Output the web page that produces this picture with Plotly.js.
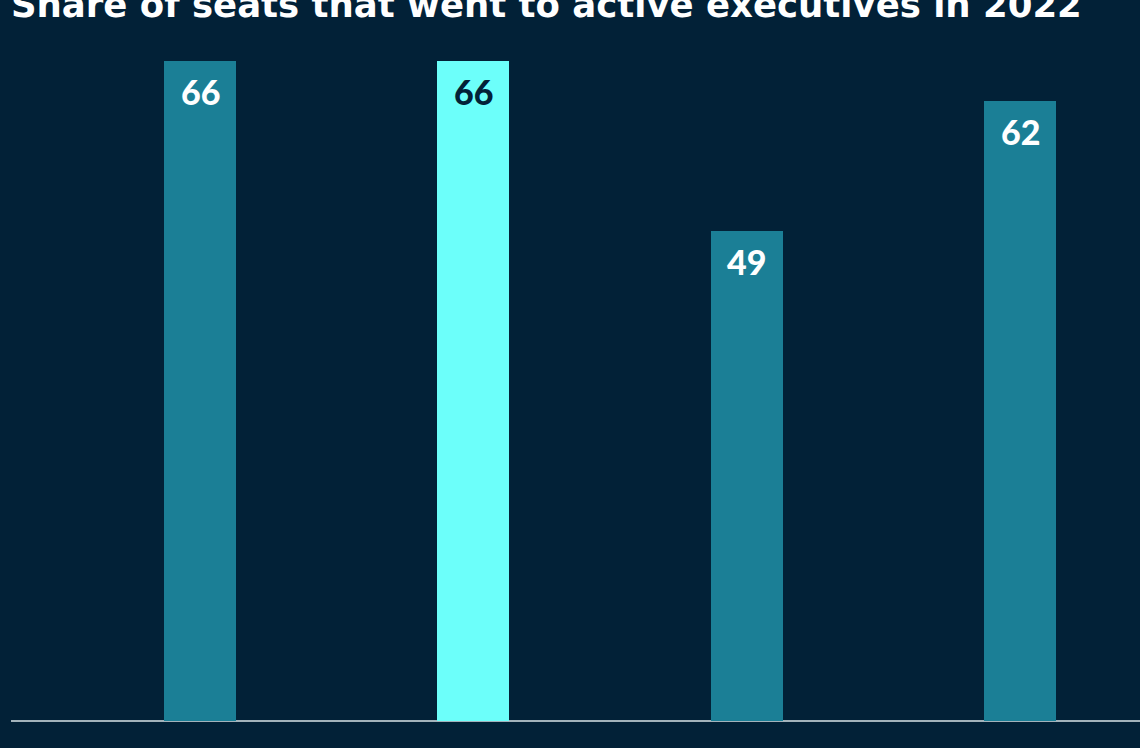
<!DOCTYPE html>
<html><head><meta charset="utf-8">
<script src="https://cdn.plot.ly/plotly-3.0.1.min.js"></script>
<style>html,body{margin:0;padding:0;background:#022137;}#chart{width:1140px;height:748px;}</style>
</head><body><div id="chart"></div>
<script>
const categories = ["Cat 1", "Cat 2", "Cat 3", "Cat 4"];
const values = [66, 66, 49, 62];
const highlighted = [false, true, false, false];
const titleText = "Share of seats that went to active executives in 2022";

const bg = "#022137";
const teal = "#1b7f96";
const cyan = "#6cfffa";

const trace = {
  type: "bar",
  x: categories,
  y: values,
  width: 0.2634,
  marker: { color: highlighted.map(h => h ? cyan : teal), line: { width: 0 } },
  hoverinfo: "skip",
  showlegend: false
};

const annotations = categories.map((c, i) => ({
  x: c, y: values[i], xref: "x", yref: "y",
  text: String(values[i]),
  showarrow: false, yanchor: "top", yshift: -8,
  font: { family: "Lato, 'Noto Sans', sans-serif", size: 34, weight: 900, color: highlighted[i] ? bg : "#ffffff" }
}));

const layout = {
  width: 1140, height: 748,
  paper_bgcolor: bg, plot_bgcolor: bg,
  margin: { l: 11, r: 0, t: 0, b: 27 },
  title: {
    text: "<b>" + titleText + "</b>",
    x: 0, xref: "paper", xanchor: "left",
    y: 0.9935, yref: "container", yanchor: "middle",
    pad: { t: 0 },
    font: { family: "'DejaVu Sans', sans-serif", size: 35.5, color: "#ffffff" }
  },
  xaxis: {
    type: "category", range: [-0.6915, 3.439],
    showticklabels: false, ticks: "", showgrid: false, zeroline: false,
    showline: false, fixedrange: true
  },
  yaxis: {
    range: [0, 72.1], showticklabels: false, ticks: "", showgrid: false,
    zeroline: true, zerolinecolor: "#a3b3bb", zerolinewidth: 2, showline: false
  },
  annotations: annotations,
  bargap: 0
};

Plotly.newPlot("chart", [trace], layout, { displayModeBar: false, staticPlot: true });
</script></body></html>
